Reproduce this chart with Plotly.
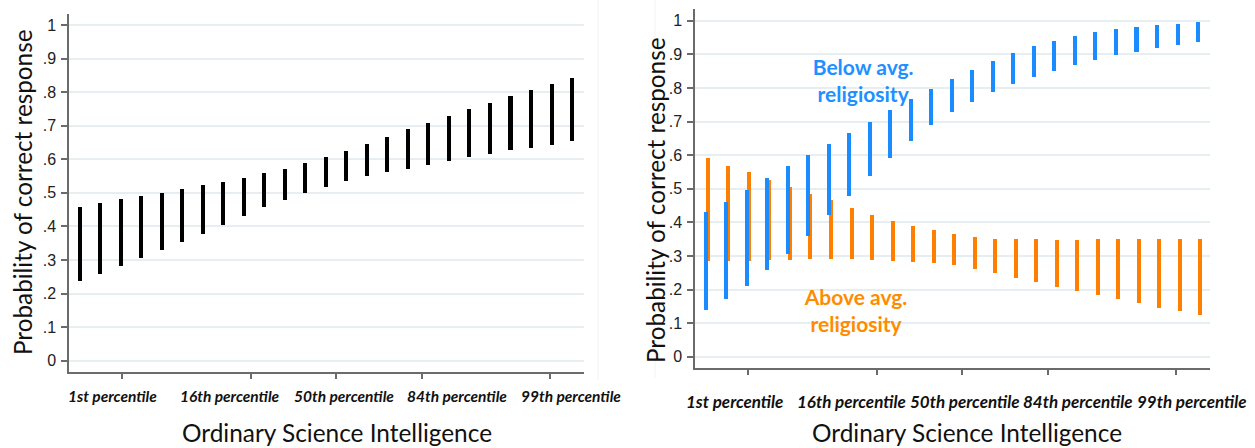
import plotly.graph_objects as go

# OSI score (standardised) at which each predicted interval is evaluated
osi = [-3.0 + 0.24 * i for i in range(25)]

# Panel A: whole sample, 95% interval of predicted probability
all_lo = [0.238, 0.259, 0.283, 0.307, 0.329, 0.354, 0.378, 0.404, 0.431, 0.457, 0.478, 0.499,
          0.518, 0.535, 0.551, 0.562, 0.572, 0.584, 0.596, 0.607, 0.617, 0.627, 0.635, 0.643, 0.653]
all_hi = [0.459, 0.471, 0.481, 0.490, 0.500, 0.510, 0.523, 0.532, 0.544, 0.558, 0.571, 0.588,
          0.608, 0.625, 0.645, 0.666, 0.689, 0.709, 0.729, 0.750, 0.769, 0.789, 0.806, 0.824, 0.841]

# Panel B: split by religiosity
below_lo = [0.137, 0.172, 0.210, 0.256, 0.306, 0.358, 0.420, 0.478, 0.536, 0.590, 0.641, 0.689,
            0.726, 0.758, 0.786, 0.811, 0.831, 0.850, 0.867, 0.881, 0.896, 0.906, 0.917, 0.927, 0.935]
below_hi = [0.431, 0.461, 0.496, 0.531, 0.566, 0.599, 0.633, 0.665, 0.698, 0.733, 0.766, 0.796,
            0.825, 0.852, 0.879, 0.903, 0.924, 0.940, 0.954, 0.965, 0.973, 0.980, 0.986, 0.990, 0.994]
above_lo = [0.283, 0.284, 0.285, 0.287, 0.288, 0.289, 0.289, 0.289, 0.288, 0.285, 0.281, 0.278,
            0.271, 0.259, 0.247, 0.234, 0.220, 0.208, 0.195, 0.183, 0.170, 0.158, 0.145, 0.134, 0.124]
above_hi = [0.591, 0.568, 0.549, 0.526, 0.505, 0.484, 0.465, 0.442, 0.421, 0.404, 0.389, 0.375,
            0.363, 0.355, 0.350, 0.349, 0.348, 0.347, 0.347, 0.349, 0.349, 0.349, 0.350, 0.350, 0.350]

tick_vals = [-2.5, -1, 0, 1, 2.5]
tick_labels = ["1st percentile", "16th percentile", "50th percentile", "84th percentile", "99th percentile"]
y_vals = [i / 10 for i in range(11)]
y_text = ["0", ".1", ".2", ".3", ".4", ".5", ".6", ".7", ".8", ".9", "1"]

W, H = 1255, 448
BW = 0.047          # bar width in OSI units (~4px)
BLUE = "#1a8cff"
ORANGE = "#ff8000"
AXIS = "#6b6b6b"
GRID = "#e7eef1"
TITLE_FONT = "Lato"


def px(x):
    return x / W


def py(y):
    return 1 - y / H


def span(lo, hi):
    return [h - l for l, h in zip(lo, hi)]


fig = go.Figure()

fig.add_trace(go.Bar(x=osi, y=span(all_lo, all_hi), base=all_lo, width=BW,
                     marker=dict(color="black", line=dict(width=0)),
                     xaxis="x", yaxis="y", showlegend=False))

# group labels sit under the bars of panel B
fig.add_trace(go.Scatter(x=[-1.158], y=[0.8146], mode="text",
                         text=["<b>Below avg.</b><br><b>religiosity</b>"],
                         textfont=dict(family=TITLE_FONT, size=21, color="#1e90ff"),
                         xaxis="x2", yaxis="y2", showlegend=False, hoverinfo="skip"))
fig.add_trace(go.Scatter(x=[-1.241], y=[0.130], mode="text",
                         text=["<b>Above avg.</b><br><b>religiosity</b>"],
                         textfont=dict(family=TITLE_FONT, size=21, color="#ff8c00"),
                         xaxis="x2", yaxis="y2", showlegend=False, hoverinfo="skip"))

fig.add_trace(go.Bar(x=osi, y=span(above_lo, above_hi), base=above_lo, width=BW,
                     offset=-BW / 2 + 0.026,
                     marker=dict(color=ORANGE, line=dict(width=0)),
                     xaxis="x2", yaxis="y2", showlegend=False))
fig.add_trace(go.Bar(x=osi, y=span(below_lo, below_hi), base=below_lo, width=BW,
                     offset=-BW / 2,
                     marker=dict(color=BLUE, line=dict(width=0)),
                     xaxis="x2", yaxis="y2", showlegend=False))

xaxis_common = dict(range=[-3.125, 2.9], tickvals=tick_vals, showticklabels=False,
                    ticks="outside", ticklen=6, tickwidth=1.5, tickcolor=AXIS,
                    showline=True, linecolor=AXIS, linewidth=1.5, showgrid=False,
                    zeroline=False, fixedrange=True)
yaxis_common = dict(tickvals=y_vals, ticktext=y_text, ticks="outside", ticklen=6,
                    tickwidth=1.5, tickcolor=AXIS, showline=True, linecolor=AXIS,
                    linewidth=1.5, showgrid=True, gridcolor=GRID, gridwidth=1.5,
                    zeroline=False, ticklabelstandoff=2,
                    tickfont=dict(family="Liberation Sans", size=16, color="#222"),
                    fixedrange=True)

fig.update_layout(
    width=W, height=H,
    margin=dict(l=0, r=0, t=0, b=0),
    paper_bgcolor="white", plot_bgcolor="white",
    barmode="overlay", bargap=0,
    xaxis=dict(domain=[px(69), px(584)], anchor="y", **xaxis_common),
    yaxis=dict(domain=[py(371.7), py(14)], range=[-0.0328, 1.0328], anchor="x", **yaxis_common),
    xaxis2=dict(domain=[px(695), px(1210)], anchor="y2", **xaxis_common),
    yaxis2=dict(domain=[py(367.7), py(9.3)], range=[-0.0327, 1.0339], anchor="x2", **yaxis_common),
)

annotations = []
label_font_l = dict(family=TITLE_FONT, size=15.5, color="#111")
label_font_r = dict(family=TITLE_FONT, size=17, color="#111")
for cx, t in zip([112.7, 229.7, 343.5, 456.5, 571.0], tick_labels):
    annotations.append(dict(x=px(cx), y=py(396), xref="paper", yref="paper", showarrow=False,
                            text=f"<b><i>{t}</i></b>", font=label_font_l,
                            xanchor="center", yanchor="middle"))
for cx, t in zip([734.5, 851.2, 964.5, 1077.5, 1191.7], tick_labels):
    annotations.append(dict(x=px(cx), y=py(401), xref="paper", yref="paper", showarrow=False,
                            text=f"<b><i>{t}</i></b>", font=label_font_r,
                            xanchor="center", yanchor="middle"))
for cx in [337, 967]:
    annotations.append(dict(x=px(cx), y=py(432), xref="paper", yref="paper", showarrow=False,
                            text="Ordinary Science Intelligence",
                            font=dict(family=TITLE_FONT, size=24.4, color="#111"),
                            xanchor="center", yanchor="middle"))
for cx, cy in [(22, 192), (655, 200)]:
    annotations.append(dict(x=px(cx), y=py(cy), xref="paper", yref="paper", showarrow=False,
                            text="Probability of correct response", textangle=-90,
                            font=dict(family=TITLE_FONT, size=24.3, color="#111"),
                            xanchor="center", yanchor="middle"))
fig.update_layout(annotations=annotations)

# faint panel borders between the two figures
fig.update_layout(shapes=[
    dict(type="line", xref="paper", yref="paper", x0=px(598), x1=px(598), y0=py(380), y1=py(0),
         line=dict(color="#eef2f4", width=1), layer="below"),
    dict(type="line", xref="paper", yref="paper", x0=px(655), x1=px(655), y0=py(378), y1=py(0),
         line=dict(color="#eef2f4", width=1), layer="below"),
])

fig.write_html("out.html")
